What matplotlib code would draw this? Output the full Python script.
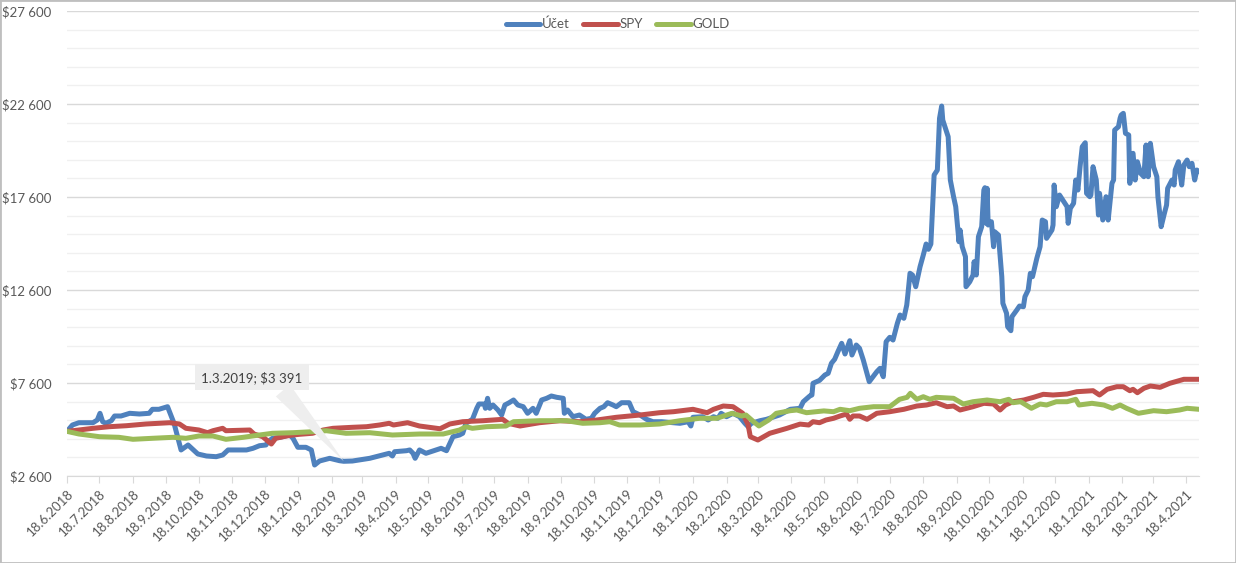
import numpy as np
import pandas as pd
import matplotlib
matplotlib.use("Agg")
import matplotlib.pyplot as plt
from matplotlib.ticker import FixedLocator, FuncFormatter
from matplotlib.patches import Rectangle

# data: days since 18.6.2018 and value in $
start = pd.Timestamp("2018-06-18")

ucet_days = [0, 5, 11, 24, 28, 30.5, 33, 36, 41, 44, 50, 58, 67, 76, 79, 85, 93, 99, 105.5, 112,
             121, 129, 138, 144, 149, 166, 172, 178, 184, 186, 190, 197, 206, 209, 213.5, 221, 226, 229, 233.6, 243,
             252, 256, 264, 280, 298, 301, 303, 314, 317, 320, 322, 326, 332, 346, 351, 357, 363, 366, 369, 375,
             379, 381, 386, 387, 389, 391, 394, 398.6, 402, 405, 409, 413, 417, 422, 426, 431, 434, 439, 443.6, 448,
             453, 459, 460, 463, 468, 474, 480, 485, 488, 493, 496.5, 500, 505, 508, 513, 520, 523.6, 530, 536, 542,
             550, 561, 567, 574.5, 577, 579, 588, 593, 598, 602, 605, 610, 616, 622, 627, 630, 633, 641, 647, 659,
             669, 678, 681, 687, 689, 690, 696, 701, 704, 707, 710, 713, 716.5, 719.6, 724, 726, 730, 733, 736.5, 742,
             749, 752, 755, 757.6, 761, 764, 768, 770.5, 774, 776.7, 778, 779.7, 782, 785, 789, 792, 794.6, 796.7, 799, 802,
             805, 807, 809, 810, 815, 817, 820, 822, 824, 825, 826, 828, 831, 831.5, 835, 838, 839, 841, 843, 846,
             848, 849, 850, 851, 852, 855, 857, 858, 861.5, 864.6, 865.6, 869, 870, 873, 874, 878.5, 881, 884.6, 886, 889,
             891, 893, 897, 900, 902, 905, 906, 911, 912, 913, 915, 918, 922, 925, 926, 928, 931, 933, 935, 937,
             939, 941.8, 943, 946, 947, 949, 952, 954, 955, 958, 961, 963, 966.5, 968, 969, 972.5, 974, 975, 977, 979,
             982, 983, 986, 988, 990, 993, 996, 998, 1000, 1002, 1005, 1008, 1009, 1012, 1015, 1017, 1018, 1022, 1024, 1025,
             1028, 1031, 1033, 1036, 1038, 1040.5, 1043, 1045, 1047]
ucet_vals = [5000, 5342, 5465, 5465, 5611, 5971, 5519, 5433, 5573, 5826, 5826, 5971, 5933, 5971, 6186, 6186, 6326, 5433, 4000, 4267,
             3783, 3675, 3638, 3729, 4000, 4000, 4089, 4229, 4267, 4444, 4627, 4680, 4804, 4627, 4143, 4143, 4000, 3191, 3406, 3551,
             3423, 3391, 3406, 3551, 3820, 3675, 3906, 3960, 4000, 3820, 3551, 4000, 3820, 4089, 3960, 4713, 4804, 4896, 5433, 5648,
             6240, 6471, 6471, 6240, 6777, 6240, 6417, 6148, 5879, 6417, 6541, 6686, 6417, 6326, 5971, 6240, 5971, 6686, 6777, 6901,
             6830, 6777, 5971, 6148, 5788, 5879, 5648, 5702, 5971, 6240, 6326, 6541, 6417, 6326, 6541, 6541, 6057, 5879, 5648, 5519,
             5519, 5465, 5433, 5519, 5288, 5756, 5788, 5611, 5788, 5702, 5971, 5788, 5971, 5788, 5433, 5250, 5433, 5573, 5648, 5879,
             6186, 6240, 6594, 6901, 6955, 7584, 7740, 8030, 8121, 8659, 8874, 9283, 9734, 9159, 9874, 9105, 9642, 9465, 8836, 7670,
             8207, 8390, 7938, 9820, 10056, 9911, 10809, 11255, 11078, 11793, 12508, 13500, 13406, 12777, 13852, 14481, 15072, 14787, 15072, 18782,
             19050, 21830, 22491, 21738, 20841, 18513, 17615, 17078, 15825, 15196, 15825, 14928, 14390, 12777, 13045, 13406, 14121, 13406, 15466, 16003,
             17975, 18100, 16185, 18066, 16094, 16271, 14928, 15734, 15556, 13314, 11884, 11346, 10626, 10411, 11164, 11524, 11739, 11701, 12239, 12599,
             13497, 13314, 14303, 14928, 16362, 16271, 15378, 15825, 16094, 18244, 17078, 17706, 17346, 17078, 16185, 16991, 17261, 18513, 17975, 19228,
             20303, 20518, 17798, 17615, 17706, 19228, 18513, 16631, 17798, 16362, 17615, 16362, 18335, 18513, 21200, 21378, 21830, 22007, 22098, 21023,
             20933, 18335, 19949, 18513, 19497, 18873, 18690, 20395, 18690, 20487, 19228, 18690, 17615, 16003, 16723, 17169, 18066, 18513, 18244, 19050,
             19497, 18244, 19319, 19588, 19228, 19410, 18513, 19050, 18960]

spy_days = [0, 11, 24, 39, 55, 73, 95, 104, 110, 122, 130, 135, 144, 147, 169, 173, 181, 189, 193, 203,
            209, 215, 227, 237, 246, 264, 277, 289, 298, 302, 315, 326, 345, 354, 366, 385, 403, 408, 419, 437,
            456, 474, 490, 508, 530, 548, 561, 579, 592, 598, 607, 616, 625, 630, 632, 639, 650, 666, 678, 686,
            690, 696, 702, 709, 715, 718, 721, 724, 727, 733, 740, 749, 761, 774, 786, 795, 804, 814, 820, 826,
            838, 848, 857, 863, 868, 875, 885, 894, 903, 912, 925, 934, 949, 955, 962, 971, 977, 983, 986, 990,
            996, 1002, 1011, 1020, 1033, 1039, 1047]
spy_vals = [5000, 5073, 5164, 5250, 5304, 5396, 5465, 5396, 5164, 5073, 4928, 5035, 5164, 5035, 5073, 4858, 4713, 4320, 4627, 4750,
            4804, 4842, 4896, 5073, 5164, 5218, 5250, 5342, 5433, 5342, 5465, 5288, 5140, 5396, 5519, 5573, 5648, 5433, 5288, 5465,
            5573, 5519, 5611, 5756, 5879, 6003, 6057, 6186, 6003, 6186, 6363, 6326, 5971, 5342, 4713, 4535, 4896, 5164, 5390, 5342,
            5519, 5465, 5611, 5702, 5826, 5879, 5933, 5648, 5826, 5826, 5648, 5971, 6057, 6186, 6363, 6417, 6541, 6326, 6363, 6148,
            6326, 6508, 6471, 6148, 6417, 6594, 6686, 6830, 6992, 6955, 7008, 7132, 7186, 6955, 7261, 7401, 7401, 7186, 7261, 7078,
            7315, 7438, 7368, 7584, 7799, 7799, 7799]

gold_days = [0, 11, 30, 48, 61, 79, 98, 110, 122, 135, 147, 163, 178, 190, 209, 227, 240, 258, 280, 301,
             326, 348, 363, 369, 375, 388, 406, 413, 437, 462, 477, 493, 502, 511, 530, 548, 567, 585, 601, 615,
             624, 628, 635, 640, 649, 656, 669, 675, 684, 700, 709, 715, 724, 733, 746, 761, 770, 777, 780, 786,
             792, 798, 804, 820, 829, 838, 851, 863, 871, 875, 882, 892, 900, 906, 915, 925, 933, 936, 948, 959,
             967, 974, 980, 991, 1005, 1017, 1029, 1036, 1047]
gold_vals = [5000, 4858, 4713, 4680, 4573, 4627, 4680, 4627, 4750, 4750, 4573, 4680, 4804, 4896, 4928, 4981, 5035, 4896, 4928, 4804,
             4858, 4858, 5073, 5250, 5164, 5250, 5288, 5519, 5573, 5573, 5433, 5465, 5519, 5342, 5342, 5396, 5573, 5702, 5702, 5971,
             5826, 5879, 5519, 5288, 5611, 5971, 6111, 6148, 6003, 6100, 6057, 6186, 6111, 6240, 6326, 6326, 6723, 6830, 7046, 6723,
             6863, 6723, 6830, 6777, 6471, 6594, 6686, 6594, 6723, 6541, 6594, 6240, 6471, 6417, 6594, 6594, 6723, 6417, 6508, 6417,
             6240, 6417, 6240, 5971, 6111, 6057, 6148, 6240, 6186]

note_date = "2019-03-01"
note_val = 3391

def to_dates(days):
    return start + pd.to_timedelta(np.array(days, dtype=float), unit="D")

blue = "#4f81bd"
red = "#c0504d"
green = "#9bbb59"
txt = "#595959"
fs = 9.5
plt.rcParams["font.family"] = ["Lato", "DejaVu Sans"]

fig = plt.figure(figsize=(12.36, 5.63), dpi=100)
ax = fig.add_axes([67 / 1236, 87 / 563, 1132 / 1236, 465 / 563])

lw = 3.6
ax.plot(to_dates(ucet_days), ucet_vals, color=blue, lw=lw, solid_joinstyle="round",
        solid_capstyle="round", label="Účet", zorder=3)
ax.plot(to_dates(spy_days), spy_vals, color=red, lw=lw, solid_joinstyle="round",
        solid_capstyle="round", label="SPY", zorder=4)
ax.plot(to_dates(gold_days), gold_vals, color=green, lw=lw, solid_joinstyle="round",
        solid_capstyle="round", label="GOLD", zorder=5)

ax.set_ylim(2600, 27600)
ax.set_xlim(start, start + pd.Timedelta(days=1047))

ax.yaxis.set_major_locator(FixedLocator(np.arange(2600, 27601, 5000)))
ax.yaxis.set_minor_locator(FixedLocator(np.arange(2600, 27601, 1000)))
ax.yaxis.set_major_formatter(FuncFormatter(lambda v, p: "$" + f"{v:,.0f}".replace(",", " ")))
ax.grid(axis="y", which="major", color="#d9d9d9", lw=1, zorder=0)
ax.grid(axis="y", which="minor", color="#f0f0f0", lw=1, zorder=0)
ax.tick_params(axis="y", which="both", length=0, pad=11, labelsize=fs, labelcolor=txt)

ticks = [start + pd.DateOffset(months=i) for i in range(35)]
ax.set_xticks(ticks)
ax.set_xticklabels([f"{d.day}.{d.month}.{d.year}" for d in ticks], rotation=45, ha="right",
                   rotation_mode="anchor", fontsize=fs, color=txt)
ax.tick_params(axis="x", length=5, color="#d9d9d9", pad=3)

for s in ["top", "right", "left"]:
    ax.spines[s].set_visible(False)
ax.spines["bottom"].set_color("#d9d9d9")

# legend is centred on the whole chart, not the plot area
leg = fig.legend(*ax.get_legend_handles_labels(), loc="center", bbox_to_anchor=(0.5, 1 - 24 / 563),
                 ncol=3, frameon=False, fontsize=fs, handlelength=2.6, columnspacing=1.0,
                 handletextpad=0.15, borderaxespad=0)
for t in leg.get_texts():
    t.set_color(txt)

ax.annotate(f"1.3.2019; ${note_val:,}".replace(",", " "),
            xy=(pd.Timestamp(note_date), note_val), xytext=(pd.Timestamp("2018-12-06"), 7900),
            ha="center", va="center", fontsize=fs, color="#404040",
            bbox=dict(boxstyle="square,pad=0.5", fc="#eeeeee", ec="none"),
            arrowprops=dict(arrowstyle="wedge,tail_width=1.4", fc="#eeeeee", ec="none",
                            shrinkA=0, shrinkB=0, relpos=(0.75, 0.0)),
            zorder=6)

fig.add_artist(Rectangle((0, 0), 1, 1, transform=fig.transFigure, fill=False, ec="#bfbfbf", lw=2))

plt.savefig("out.png", dpi=100)
